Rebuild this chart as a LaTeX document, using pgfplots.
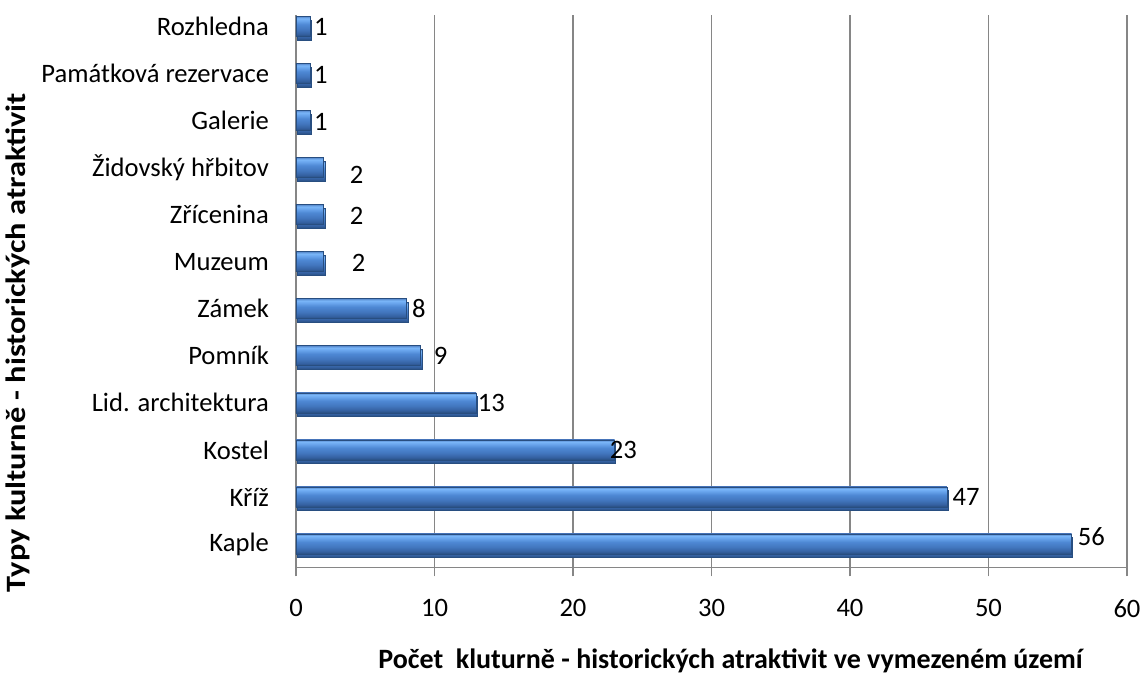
\documentclass[border=0pt]{standalone}
\usepackage{pgfplots}
\usepackage{pgfplotstable}
\usepackage{graphicx}
\pgfplotsset{compat=1.18}
\usepackage{fontspec}
\setmainfont{Carlito}
\definecolor{gridgray}{RGB}{134,134,134}
\definecolor{barbot}{RGB}{40,78,128}
\pgfdeclareverticalshading{barshade}{100bp}{
  color(0bp)=(barbot);
  color(25bp)=(barbot);
  color(31bp)=({rgb,255:red,52;green,96;blue,160});
  color(42bp)=({rgb,255:red,66;green,118;blue,190});
  color(55bp)=({rgb,255:red,78;green,136;blue,212});
  color(64bp)=({rgb,255:red,104;green,164;blue,236});
  color(70bp)=({rgb,255:red,122;green,182;blue,248});
  color(75bp)=({rgb,255:red,86;green,136;blue,204});
  color(100bp)=({rgb,255:red,86;green,136;blue,204})}
\pgfplotstableread{
y x dx dy
0 56 3 3.5
1 47 2.75 0
2 23 -2.5 0
3 13 0.75 0
4 9 6.5 0
5 8 2.5 0
6 2 14 -0.5
7 2 13 -0.5
8 2 13 -3.5
9 1 2 -0.5
10 1 2 -0.5
11 1 2 -0.5
}\data
\begin{document}
\begin{tikzpicture}
\useasboundingbox (0,0) rectangle (573.5pt,336.5pt);
\begin{axis}[
  at={(148pt,52.75pt)}, anchor=south west,
  scale only axis, width=415.5pt, height=276.25pt,
  xmin=0, xmax=60, ymin=-0.5, ymax=11.243,
  axis lines*=left,
  axis line style={draw=gridgray, line width=0.7pt},
  xtick={0,10,...,60},
  xmajorgrids, grid style={draw=gridgray, line width=0.7pt},
  tick align=outside,
  x tick style={draw=gridgray, line width=0.7pt},
  major tick length=4.5pt,
  ytick={0,...,11},
  yticklabels={Kaple,Kříž,Kostel,Lid. architektura,Pomník,Zámek,Muzeum,Zřícenina,Židovský hřbitov,Galerie,Památková rezervace,Rozhledna},
  y tick style={draw=none},
  extra y ticks={-0.5,0.5,...,10.5},
  extra y tick labels={},
  extra y tick style={grid=none, major tick length=5pt, tick style={draw=gridgray, line width=0.7pt}},
  ticklabel style={font=\fontsize{13.3}{16}\selectfont, text=black},
  yticklabel style={xshift=-5.5pt},
  xticklabel style={yshift=-8pt},
  /pgf/number format/assume math mode=true,
  xlabel={Počet~ kluturně - historických atraktivit ve vymezeném území},
  ylabel={\scalebox{1.155}[1]{Typy kulturně - historických atraktivit}},
  label style={font=\fontsize{14}{16}\selectfont\bfseries},
  xlabel style={at={(axis description cs:0.523,-0.169)}, anchor=center},
  ylabel style={at={(axis description cs:-0.3345,0.407)}, anchor=center},
  clip=false,
  xbar, bar width=10pt,
  nodes near coords,
  visualization depends on={\thisrow{dx} \as \dx},
  visualization depends on={\thisrow{dy} \as \dy},
  every node near coord/.append style={anchor=west, inner sep=0pt, xshift=\dx pt, yshift=\dy pt, font=\fontsize{13.3}{16}\selectfont, text=black},
]
\pgfplotsinvokeforeach{0,...,11}{
\addplot[bar shift=0pt, draw=barbot, line width=0.3pt, shading=barshade,
  preaction={fill=black!13, transform canvas={xshift=0.6pt, yshift=-1.8pt}},
  restrict expr to domain={\coordindex}{#1:#1}]
  table[x=x, y=y] {\data};
}
\end{axis}
\end{tikzpicture}
\end{document}
